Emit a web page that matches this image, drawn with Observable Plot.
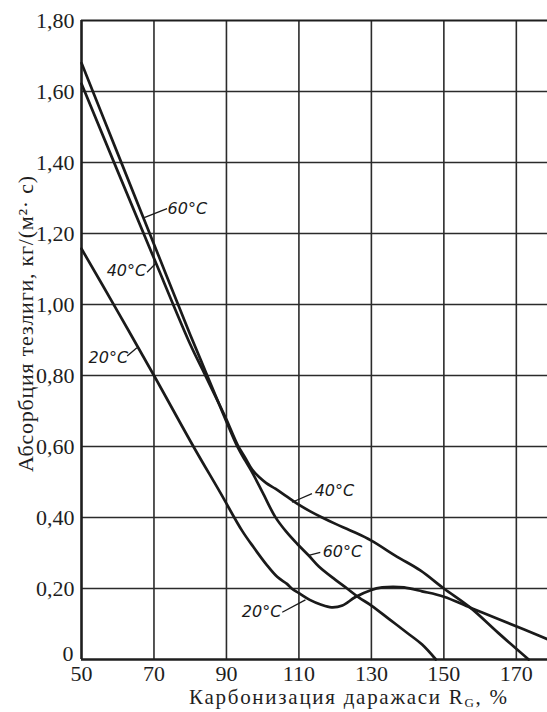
<!DOCTYPE html>
<html><head><meta charset="utf-8">
<script src="https://cdn.jsdelivr.net/npm/d3@7"></script>
<script src="https://cdn.jsdelivr.net/npm/@observablehq/plot@0.6"></script>
<style>html,body{margin:0;padding:0;background:#fff}</style>
</head><body><div id="chart"></div>
<script>
// Axis ticks
const xTicks = [50, 70, 90, 110, 130, 150, 170];
const yTicks = [0, 0.2, 0.4, 0.6, 0.8, 1.0, 1.2, 1.4, 1.6, 1.8];

// Series: absorption rate vs carbonization degree
const x20 = [50, 60, 70, 81, 88.3, 94.3, 97.5, 101, 104, 106.7, 108, 110, 113, 116, 119, 122, 125.6, 130, 133, 136, 139, 144, 150, 157.3, 165, 172, 178.6];
const y20 = [1.157, 0.98, 0.80, 0.598, 0.47, 0.363, 0.316, 0.268, 0.233, 0.213, 0.20, 0.187, 0.168, 0.155, 0.147, 0.152, 0.176, 0.196, 0.203, 0.205, 0.203, 0.192, 0.177, 0.146, 0.114, 0.085, 0.057];

const x40 = [50, 60, 70, 80, 84, 87.5, 90, 93.1, 95.2, 97.1, 99, 101, 103.5, 106.5, 109.5, 113, 116.4, 120.1, 125, 130, 137, 143.5, 150, 157.3, 165, 173.4];
const y40 = [1.622, 1.375, 1.13, 0.888, 0.804, 0.73, 0.676, 0.604, 0.568, 0.535, 0.514, 0.497, 0.481, 0.46, 0.439, 0.418, 0.40, 0.382, 0.36, 0.335, 0.29, 0.251, 0.20, 0.146, 0.075, 0];

const x60 = [50, 60, 70, 80, 84, 87.5, 90, 93.1, 95.2, 97.1, 100, 103.5, 106.5, 109.5, 112.7, 115.5, 120, 123.3, 126.5, 130, 135, 140, 144, 147.8];
const y60 = [1.68, 1.425, 1.17, 0.915, 0.817, 0.731, 0.67, 0.598, 0.56, 0.527, 0.47, 0.401, 0.36, 0.326, 0.293, 0.262, 0.225, 0.20, 0.175, 0.152, 0.113, 0.074, 0.042, 0];

// Curve annotations (data coordinates)
const labelText = ["60°C", "40°C", "20°C", "40°C", "60°C", "20°C"];
const labelX = [79.2, 62.4, 57.4, 119.8, 122.0, 99.7];
const labelY = [1.268, 1.096, 0.851, 0.476, 0.304, 0.135];
const leaderX1 = [67.3, 68.1, 62.6, 108.1, 112.7, 105.4];
const leaderY1 = [1.245, 1.091, 0.855, 0.443, 0.293, 0.133];
const leaderX2 = [73.6, 70.4, 65.3, 113.6, 115.9, 111.8];
const leaderY2 = [1.270, 1.115, 0.878, 0.467, 0.302, 0.168];

const xTitle = "Карбонизация даражаси R";
const xTitleSub = "G";
const xTitleTail = ", %";
const yTitle = "Абсорбция тезлиги, кг/(м²· с)";

const series = [
  {name: "20°C", xs: x20, ys: y20},
  {name: "40°C", xs: x40, ys: y40},
  {name: "60°C", xs: x60, ys: y60}
];
const data = series.flatMap(s => s.xs.map((x, i) => ({series: s.name, x, y: s.ys[i]})));
const labels = labelText.map((t, i) => ({t, x: labelX[i], y: labelY[i]}));
const leaders = leaderX1.map((x1, i) => ({x1, y1: leaderY1[i], x2: leaderX2[i], y2: leaderY2[i]}));
const fmtY = d => d === 0 ? "0" : d.toFixed(2).replace(".", ",");

const chart = Plot.plot({
  width: 547,
  height: 712,
  marginTop: 20,
  marginBottom: 53,
  marginLeft: 81,
  marginRight: 0,
  style: {fontFamily: "'Liberation Serif', 'Times New Roman', serif", fontSize: "22px", background: "#fff", color: "#1e1e1e"},
  x: {domain: [50, 178.6], ticks: xTicks, tickSize: 0, tickPadding: 6, tickFormat: d => String(d), label: null},
  y: {domain: [0, 1.8], ticks: yTicks.slice(1), tickSize: 0, tickPadding: 7, tickFormat: fmtY, label: null},
  marks: [
    Plot.ruleX(xTicks.slice(1), {stroke: "#2b2b2b", strokeWidth: 1.6}),
    Plot.ruleY(yTicks.slice(1, -1), {stroke: "#2b2b2b", strokeWidth: 1.6}),
    Plot.ruleY([1.8], {stroke: "#1e1e1e", strokeWidth: 2}),
    Plot.ruleX([50], {stroke: "#1e1e1e", strokeWidth: 2.6}),
    Plot.ruleY([0], {stroke: "#1e1e1e", strokeWidth: 2.6}),
    Plot.line(data, {x: "x", y: "y", z: "series", curve: "catmull-rom", stroke: "#1a1a1a", strokeWidth: 2.7}),
    Plot.link(leaders, {x1: "x1", y1: "y1", x2: "x2", y2: "y2", stroke: "#1a1a1a", strokeWidth: 1.3}),
    Plot.text(labels, {x: "x", y: "y", text: "t", fontFamily: "DejaVu Sans", fontStyle: "italic", fontSize: 16, fill: "#1a1a1a"}),
    // the "0" tick label of the y axis, nudged up like in the original
    Plot.text([yTicks[0]], {x: () => xTicks[0], y: d => d, text: fmtY, textAnchor: "end", dx: -8, dy: -6,
      fontSize: 22, fill: "#1e1e1e"})
  ]
});

const svg = d3.select(chart);
const xt = svg.append("text")
  .attr("x", 348).attr("y", 704)
  .attr("text-anchor", "middle")
  .attr("font-family", "'Liberation Serif', serif")
  .attr("font-size", 21)
  .attr("textLength", 318)
  .attr("lengthAdjust", "spacing")
  .attr("fill", "#1e1e1e");
xt.append("tspan").text(xTitle);
xt.append("tspan").attr("dy", 3).attr("font-size", 13).text(xTitleSub);
xt.append("tspan").attr("dy", -3).text(xTitleTail);

svg.append("text")
  .attr("transform", "translate(33,324) rotate(-90)")
  .attr("text-anchor", "middle")
  .attr("font-family", "'Liberation Serif', serif")
  .attr("font-size", 22)
  .attr("textLength", 296)
  .attr("lengthAdjust", "spacing")
  .attr("fill", "#1e1e1e")
  .text(yTitle);

document.getElementById("chart").appendChild(chart);
</script>
</body></html>
